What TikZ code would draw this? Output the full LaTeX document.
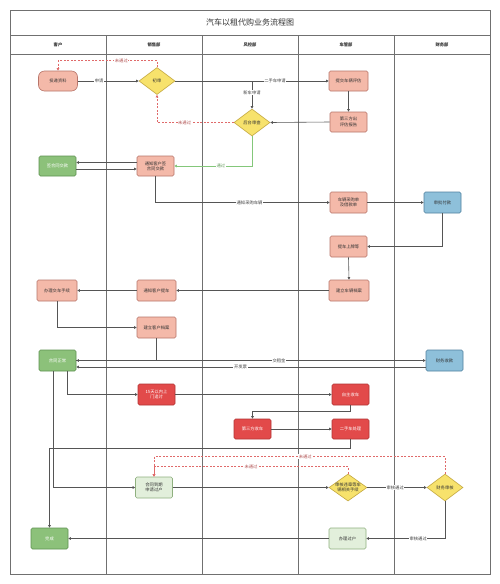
\documentclass[tikz,border=0pt]{standalone}
\usepackage{fontspec}
\newfontfamily\cjk{Noto Sans CJK SC}
\usetikzlibrary{shapes.geometric,arrows.meta}
\definecolor{pinkF}{HTML}{F4B9A9}
\definecolor{pinkD}{HTML}{B8756A}
\definecolor{redF}{HTML}{E24A4A}
\definecolor{redD}{HTML}{B23434}
\definecolor{greenF}{HTML}{8CC17A}
\definecolor{greenD}{HTML}{5E9150}
\definecolor{lgF}{HTML}{E2EFDB}
\definecolor{lgD}{HTML}{8FB07F}
\definecolor{blueF}{HTML}{8EC0DA}
\definecolor{blueD}{HTML}{50819F}
\definecolor{yelF}{HTML}{F7E26C}
\definecolor{yelD}{HTML}{C4A840}
\definecolor{frameC}{HTML}{707070}
\definecolor{lineC}{HTML}{555555}
\definecolor{dashC}{HTML}{E06A6A}
\definecolor{okC}{HTML}{84C77A}
\tikzset{
  tiny/.style={font=\cjk\fontsize{4.3pt}{5.3pt}\selectfont},
  box/.style={tiny, rounded corners=1.5pt, minimum width=37pt, minimum height=21pt, align=center, inner sep=1pt, line width=0.6pt},
  pinkbox/.style={box, fill=pinkF, draw=pinkD, text=black!80},
  redbox/.style={box, fill=redF, draw=redD, text=white},
  greenbox/.style={box, fill=greenF, draw=greenD, text=white},
  lgbox/.style={box, fill=lgF, draw=lgD, text=black!80},
  bluebox/.style={box, fill=blueF, draw=blueD, text=black!80},
  dia/.style={diamond, fill=yelF, draw=yelD, line width=0.6pt, minimum width=36pt, minimum height=27pt, inner sep=0pt, tiny, label={[tiny, align=center, text=black!80]center:#1}},
  conn/.style={draw=lineC, line width=0.6pt, -{Triangle[length=2.6pt,width=2.6pt]}},
  dconn/.style={draw=dashC, line width=0.6pt, dash pattern=on 2pt off 1.5pt, -{Triangle[length=2.6pt,width=2.6pt]}},
  gconn/.style={draw=okC, line width=0.6pt, -{Triangle[length=2.6pt,width=2.6pt]}},
  lbl/.style={tiny, fill=white, inner sep=0.6pt, text=black!75},
  dlbl/.style={tiny, fill=white, inner sep=0.6pt, text=dashC!80!black},
  glbl/.style={tiny, fill=white, inner sep=0.6pt, text=okC!80!black},
  hdr/.style={tiny, font=\cjk\bfseries\fontsize{4.3pt}{5.3pt}\selectfont, text=black!80}
}
\begin{document}
\begin{tikzpicture}[x=1pt,y=-1pt]
\useasboundingbox (0,0) rectangle (500,584);
\fill[white] (0,0) rectangle (500,584);
% frame
\draw[frameC, line width=0.9pt] (10,10) rectangle (490,574);
\draw[frameC, line width=0.9pt] (10,35) -- (490,35);
\draw[frameC, line width=0.9pt] (10,54) -- (490,54);
\foreach \xx in {106,202,298,394} \draw[frameC, line width=0.9pt] (\xx,35) -- (\xx,574);
\node[font=\cjk\fontsize{8pt}{9pt}\selectfont, text=black!80] (title) at (250,22.5) {汽车以租代购业务流程图};
\node[hdr] (h1) at (58,44.5) {客户};
\node[hdr] (h2) at (154,44.5) {销售部};
\node[hdr] (h3) at (250,44.5) {风控部};
\node[hdr] (h4) at (346,44.5) {车管部};
\node[hdr] (h5) at (442,44.5) {财务部};

% nodes
\node[pinkbox, rounded corners=6pt, minimum width=39pt, minimum height=20pt] (tdzl) at (58,81) {投递资料};
\node[dia={初审}] (cs) at (157,81) {};
\node[pinkbox, minimum width=39pt, minimum height=20pt] (tj) at (348.5,81) {提交车辆评估};
\node[dia={后台审查}] (hs) at (252,122.5) {};
\node[pinkbox, minimum height=20pt] (dsf) at (348.5,122) {第三方出\\评估报告};
\node[pinkbox, minimum height=20pt] (tz) at (155.5,166) {通知客户签\\合同交款};
\node[greenbox, minimum height=20pt] (qht) at (57.5,166) {签合同交款};
\node[pinkbox] (cg) at (348.5,202.5) {车辆采购单\\及借款单};
\node[bluebox] (sp) at (442.5,202.5) {审批付款};
\node[pinkbox] (ts) at (348.5,246.5) {提车上牌等};
\node[pinkbox, minimum width=40pt] (jl) at (349,290.5) {建立车辆档案};
\node[pinkbox, minimum width=39pt] (tzk) at (156.5,290.5) {通知客户提车};
\node[pinkbox, minimum width=40pt] (bl) at (57,290.5) {办理交车手续};
\node[pinkbox, minimum width=39pt] (jk) at (156.5,327.5) {建立客户档案};
\node[greenbox] (ht) at (57.5,360.5) {合同正常};
\node[bluebox] (cw) at (444.5,360.5) {财务收款};
\node[redbox] (zt) at (156.5,394.5) {15天以内上\\门追讨};
\node[redbox] (zz) at (350.5,394.5) {自主收车};
\node[redbox, minimum height=20pt] (dsfs) at (252.5,429) {第三方收车};
\node[redbox, minimum height=20pt] (esc) at (350.5,429) {二手车处理};
\node[lgbox] (dq) at (154,487.5) {合同到期\\申请过户};
\node[dia={审核违章等车\\辆相关手续}, minimum width=38pt] (sh) at (348,487.5) {};
\node[dia={财务审核}] (cwsh) at (445,487.5) {};
\node[lgbox] (blgh) at (347.5,538.5) {办理过户};
\node[greenbox] (wc) at (49.5,538.5) {完成};

% connectors
\draw[conn] (tdzl.east) -- node[lbl, pos=0.35] {申请} (cs.west);
\draw[dconn] (cs.north) -- ++(0,6.5pt) -| node[dlbl, pos=0.18] {未通过} (tdzl.north);
\draw[conn] (cs.east) -- node[lbl, pos=0.65] {二手车申请} (tj.west);
\coordinate (br) at (252,81);
\draw[conn] (br) -- node[lbl, pos=0.42] {新车申请} (hs.north);
\draw[conn] (tj.south) -- (dsf.north);
\draw[conn] (dsf.west) -- (hs.east);
\draw[dconn] (hs.west) -| node[dlbl, pos=0.32] {未通过} (cs.south);
\draw[gconn] (hs.south) |- node[glbl, pos=0.7] {通过} (tz.east);
\draw[conn] ([yshift=3.5pt]tz.west) -- ([yshift=3.5pt]qht.east);
\draw[conn] ([yshift=-3pt]qht.east) -- ([yshift=-3pt]tz.west);
\draw[conn] (tz.south) |- node[lbl, pos=0.77] {通知采购车辆} (cg.west);
\draw[conn] (cg.east) -- (sp.west);
\draw[conn] (sp.south) |- (ts.east);
\draw[conn] (ts.south) -- (jl.north);
\draw[conn] (jl.west) -- (tzk.east);
\draw[conn] (tzk.west) -- (bl.east);
\draw[conn] (bl.south) |- (jk.west);
\draw[conn] (jk.south) |- (ht.east);
\draw[conn] (ht.east) -- node[lbl, pos=0.58] {交租金} (cw.west);
\draw[conn] ([yshift=-6.5pt]cw.west) -- node[lbl, pos=0.53] {开发票} ([yshift=-6.5pt]ht.east);
\draw[conn] ([xshift=9.5pt]ht.south) |- (zt.west);
\draw[conn] ([xshift=-4.5pt]ht.south) |- (dq.west);
\draw[conn] (zt.east) -- (zz.west);
\draw[conn] (zz.south) -- ++(0,-6pt) -| (dsfs.north);
\draw[conn] (dsfs.east) -- (esc.west);
\draw[conn] (esc.south) -- ++(0,-9pt) -| (wc.north);
\draw[conn] (dq.east) -- (sh.west);
\draw[conn] (sh.east) -- node[lbl, pos=0.47] {审核通过} (cwsh.west);
\draw[conn] (cwsh.south) |- node[lbl, pos=0.67] {审核通过} (blgh.east);
\draw[conn] (blgh.west) -- (wc.east);
\draw[dconn] (cwsh.north) -- ++(0,17pt) -| node[dlbl, pos=0.24] {未通过} (dq.north);
\draw[dconn] (sh.north) -- ++(0,7pt) -| node[dlbl, pos=0.25] {未通过} (dq.north);
\end{tikzpicture}
\end{document}
